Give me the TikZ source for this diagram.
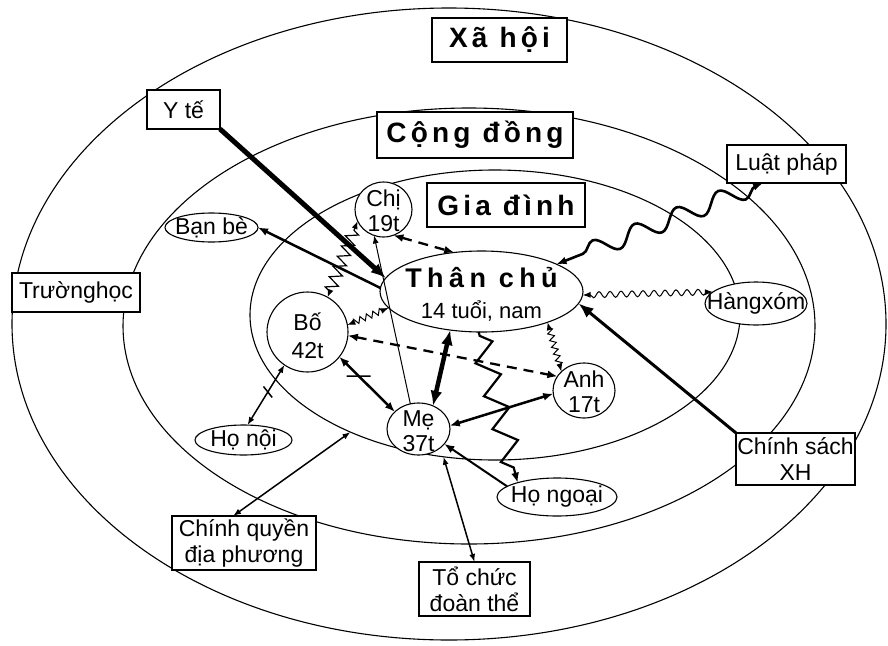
\documentclass[tikz,border=0pt]{standalone}
\usepackage{fontspec}
\setmainfont{Liberation Sans}
\newfontfamily\titlefont[LetterSpace=15]{Liberation Sans}
\newfontfamily\tcfont[LetterSpace=20]{Liberation Sans}
\usetikzlibrary{shapes.geometric,arrows.meta,decorations.pathmorphing,calc}
\begin{document}
\begin{tikzpicture}[x=1pt,y=-1pt,
  ring/.style={draw, ellipse, line width=1.1pt, inner sep=0pt, outer sep=0pt},
  box/.style={draw, rectangle, fill=white, line width=1.1pt, inner sep=0pt, outer sep=0pt, align=center, font=\fontsize{23}{26}\selectfont},
  titlebox/.style={draw, rectangle, fill=white, line width=1.4pt, inner sep=0pt, outer sep=0pt, font=\titlefont\bfseries\fontsize{28}{30}\selectfont},
  pers/.style={draw, ellipse, fill=white, line width=1.1pt, inner sep=0pt, outer sep=0pt},
  persl/.style={font=\fontsize{23}{25}\selectfont, align=center, inner sep=0pt},
  lnthin/.style={line width=1pt},
  lnmed/.style={line width=1.5pt},
  lnbold/.style={line width=2.5pt},
  lnheavy/.style={line width=3pt},
  lnvheavy/.style={line width=5pt},
  dashln/.style={line width=2.3pt, dash pattern=on 10pt off 7pt},
  oneS/.style={-{Latex[length=8pt,width=6pt]}},
  twoS/.style={{Latex[length=8pt,width=6pt]}-{Latex[length=8pt,width=6pt]}},
  twoM/.style={{Latex[length=10pt,width=8pt]}-{Latex[length=10pt,width=8pt]}},
  oneM/.style={-{Latex[length=10pt,width=8pt]}},
  twoL/.style={{Latex[length=15pt,width=12pt]}-{Latex[length=15pt,width=12pt]}},
  oneL/.style={-{Latex[length=15pt,width=12pt]}},
  coil/.style={line width=1.2pt, decorate, decoration={zigzag, amplitude=6pt, segment length=11pt, pre length=6pt, post length=6pt}},
  coilsm/.style={lnthin, decorate, decoration={zigzag, amplitude=3pt, segment length=7pt, pre length=6pt, post length=6pt}},
  zigbig/.style={line width=2.2pt, decorate, decoration={zigzag, amplitude=11pt, segment length=34pt, pre length=4pt, post length=10pt}},
  snklaw/.style={line width=2.6pt, decorate, decoration={snake, amplitude=9pt, segment length=45pt, pre length=8pt, post length=10pt}},
  snksm/.style={lnthin, decorate, decoration={snake, amplitude=3pt, segment length=11pt, pre length=6pt, post length=6pt}}
]
\fill[white] (0,0) rectangle (888,645);
\useasboundingbox (0,0) rectangle (888,645);

% rings
\node[ring, minimum width=874pt, minimum height=632pt] (xh) at (449,324) {};
\node[ring, minimum width=692pt, minimum height=436pt] (cd) at (469,326) {};
\node[ring, minimum width=490pt, minimum height=290pt] (gd) at (495,315) {};

% title boxes
\node[titlebox, minimum width=135pt, minimum height=44pt] (xahoi) at (499.5,40) {Xã hội};
\node[titlebox, minimum width=196pt, minimum height=46pt] (congdong) at (475,135) {Cộng đồng};
\node[titlebox, minimum width=158pt, minimum height=44pt] (giadinh) at (506,205) {Gia đình};

% outer boxes
\node[box, minimum width=73pt, minimum height=39pt] (yte) at (183.5,109.5) {Y tế};
\node[box, minimum width=119pt, minimum height=38pt] (luatphap) at (786.5,164) {Luật pháp};
\node[box, minimum width=128pt, minimum height=39pt] (truonghoc) at (76,292.5) {Trườnghọc};
\node[box, minimum width=119pt, minimum height=52pt] (chinhsach) at (795.5,459) {Chính sách\\XH};
\node[box, minimum width=144pt, minimum height=54pt] (chinhquyen) at (244,543) {Chính quyền\\địa phương};
\node[box, minimum width=111pt, minimum height=54pt] (tochuc) at (474.5,589) {Tổ chức\\đoàn thể};

% persons
\node[pers, minimum width=203pt, minimum height=81pt,
  label={[inner sep=0pt, yshift=14pt, font=\tcfont\bfseries\fontsize{27}{30}\selectfont]center:{Thân chủ}},
  label={[inner sep=0pt, yshift=-20pt, font=\fontsize{22}{24}\selectfont]center:{14 tuổi, nam}}] (tc) at (481.5,291.5) {};
\node[pers, minimum width=57pt, minimum height=55pt, label={[persl, yshift=-1pt]center:{Chị\\19t}}] (chi) at (383.5,209.5) {};
\node[pers, minimum width=81pt, minimum height=80pt, label={[persl, font=\fontsize{23}{28}\selectfont, yshift=-4pt]center:{Bố\\42t}}] (bo) at (307.5,332) {};
\node[pers, minimum width=63pt, minimum height=52pt, label={[persl, yshift=-2pt]center:{Mẹ\\37t}}] (me) at (418.5,429) {};
\node[pers, minimum width=62pt, minimum height=55pt, label={[persl, yshift=-1pt]center:{Anh\\17t}}] (anh) at (584,390.5) {};
\node[pers, minimum width=120pt, minimum height=38pt, label={[persl]center:{Họ ngoại}}] (honoai) at (557,497) {};
\node[pers, minimum width=97pt, minimum height=30pt, label={[persl]center:{Họ nội}}] (honoi) at (243.5,440) {};
\node[pers, minimum width=93pt, minimum height=29pt, label={[persl]center:{Bạn bè}}] (banbe) at (211.5,227.5) {};
\node[pers, minimum width=102pt, minimum height=43pt, label={[persl]center:{Hàngxóm}}] (hangxom) at (756,303.5) {};

% connectors
\draw[lnvheavy, oneL] (yte.south east) -- (tc.172);
\draw[lnbold, oneM] (tc.178) -- (banbe.east);
\draw[dashln, twoM] (chi.-69) -- (tc.125);
\draw[lnthin, oneS] (me.108) -- (chi.250);
\draw[coil, twoS] (bo.60) -- (chi.204);
\draw[coilsm, twoS] (bo.10) -- (tc.190);
\draw[dashln, twoM] (bo.-5) -- (anh.152);
\draw[lnbold, twoM] (bo.-38) -- (me.144);
\draw[lnmed] ($(bo.-38)!0.35!(me.144)!12pt!45:(me.144)$) -- ($(bo.-38)!0.35!(me.144)!12pt!-135:(me.144)$);
\draw[line width=4.5pt, twoL] (tc.231) -- (me.58);
\draw[zigbig, oneM] (tc.266) -- (honoai.160);
\draw[coilsm, twoS] (tc.-25) -- (anh.140);
\draw[lnbold, twoM] (me.6) -- (anh.186);
\draw[line width=2pt, oneM] (honoai.168) -- (me.-30);
\draw[lnmed, twoS] (gd.250) -- (tochuc.north);
\draw[lnmed, twoS] (chinhquyen.112) -- (gd.219);
\draw[lnmed, twoS] (bo.235) -- (honoi.75);
\draw[lnmed] ($(bo.235)!0.45!(honoi.75)!7pt!70:(honoi.75)$) -- ($(bo.235)!0.45!(honoi.75)!7pt!-110:(honoi.75)$);
\draw[lnheavy, oneL] (chinhsach.north west) -- (tc.-7);
\draw[snksm, twoS] (hangxom.165) -- (tc.-2);
\draw[snklaw, twoM] (luatphap.219) -- (tc.20);
\end{tikzpicture}
\end{document}
